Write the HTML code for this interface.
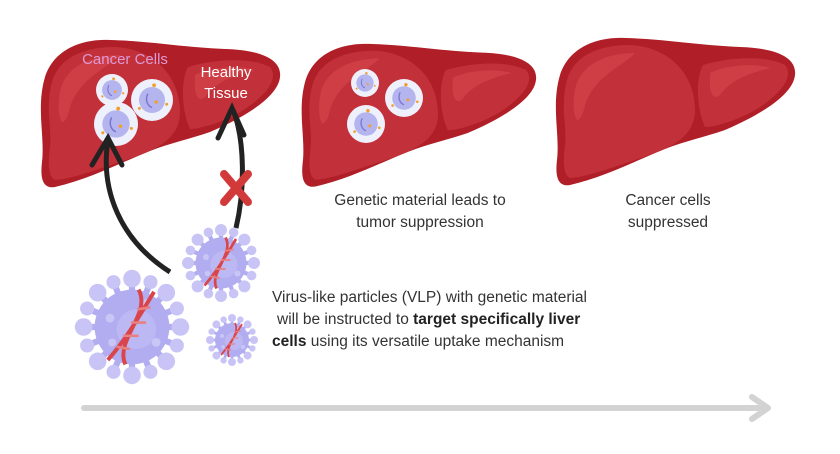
<!DOCTYPE html>
<html><head><meta charset="utf-8"><style>
body{margin:0;background:#fff;}
svg{display:block;font-family:"Liberation Sans",sans-serif;}
</style></head><body>
<svg width="840" height="454" viewBox="0 0 840 454">
<defs>
<g id="liver">
<path d="M15,40 C25,10 55,2 80,3 C120,4 150,10 195,12 C230,13 252,22 250,40 C248,60 215,80 180,95 C160,102 140,106 120,114 C90,126 60,142 25,150 C13,152 10,142 12,125 C15,100 6,70 15,40 Z" fill="#b01e27"/>
<path d="M22,45 C30,18 58,10 85,10 C125,12 150,40 150,75 C150,105 120,115 90,125 C60,135 40,142 25,143 C18,140 18,125 20,110 C22,90 15,70 22,45 Z" fill="#c2313a"/>
<path d="M158,30 C185,22 220,20 240,30 C248,40 240,55 215,72 C195,85 170,92 160,92 C152,75 150,45 158,30 Z" fill="#c2313a"/>
<path d="M30,55 C35,30 60,18 90,18 C80,30 50,40 40,70 C38,80 35,85 32,85 C28,80 28,65 30,55 Z" fill="#cf3d45"/>
<path d="M165,38 C180,30 210,28 225,33 C205,38 185,45 175,60 C170,65 165,60 165,50 Z" fill="#cf3d45"/>
</g>
<g id="virus">
<g stroke="#b2adf0" stroke-width="0.14">
<path d="M0,0 L0,-1.1 M0,0 L0.78,-0.78 M0,0 L1.1,0 M0,0 L0.78,0.78 M0,0 L0,1.1 M0,0 L-0.78,0.78 M0,0 L-1.1,0 M0,0 L-0.78,-0.78 M0,0 L0.42,-1.02 M0,0 L1.02,0.42 M0,0 L-0.42,1.02 M0,0 L-1.02,-0.42 M0,0 L-0.42,-1.02 M0,0 L1.02,-0.42 M0,0 L0.42,1.02 M0,0 L-1.02,0.42"/>
</g>
<g fill="#c8c5f6">
<circle cx="0" cy="-1.1" r="0.2"/><circle cx="0.78" cy="-0.78" r="0.2"/><circle cx="1.1" cy="0" r="0.2"/><circle cx="0.78" cy="0.78" r="0.2"/>
<circle cx="0" cy="1.1" r="0.2"/><circle cx="-0.78" cy="0.78" r="0.2"/><circle cx="-1.1" cy="0" r="0.2"/><circle cx="-0.78" cy="-0.78" r="0.2"/>
<circle cx="0.42" cy="-1.02" r="0.16"/><circle cx="1.02" cy="0.42" r="0.16"/><circle cx="-0.42" cy="1.02" r="0.16"/><circle cx="-1.02" cy="-0.42" r="0.16"/>
<circle cx="-0.42" cy="-1.02" r="0.16"/><circle cx="1.02" cy="-0.42" r="0.16"/><circle cx="0.42" cy="1.02" r="0.16"/><circle cx="-1.02" cy="0.42" r="0.16"/>
</g>
<circle r="0.85" fill="#b2adf0"/>
<circle cx="0.1" cy="0.05" r="0.45" fill="#bcb8f3"/>
<circle cx="-0.5" cy="-0.2" r="0.1" fill="#c9c6f6"/><circle cx="0.55" cy="0.35" r="0.1" fill="#c9c6f6"/><circle cx="-0.45" cy="0.35" r="0.09" fill="#c9c6f6"/><circle cx="0.3" cy="-0.55" r="0.08" fill="#c9c6f6"/>
<path d="M-0.55,0.75 C-0.15,0.3 0.2,-0.3 0.5,-0.8 M-0.15,0.85 C-0.4,0.3 0.45,-0.3 0.15,-0.85" stroke="#d9454a" stroke-width="0.09" fill="none"/>
<path d="M-0.35,0.45 L-0.05,0.5 M-0.2,0.2 L0.15,0.2 M-0.02,-0.1 L0.32,-0.1 M0.12,-0.4 L0.42,-0.45" stroke="#e88080" stroke-width="0.06"/>
</g>
<g id="cell">
<circle r="1" fill="#eef0fb"/><circle r="0.62" fill="#b4b4ee"/>
<path d="M-0.2,-0.3 C-0.35,0 -0.2,0.3 0,0.35" stroke="#7b77d0" stroke-width="0.07" fill="none"/>
<circle cx="0.1" cy="-0.7" r="0.09" fill="#f0a030"/><circle cx="0.7" cy="0.2" r="0.07" fill="#f0a030"/><circle cx="-0.6" cy="0.4" r="0.07" fill="#f0a030"/><circle cx="0.2" cy="0.1" r="0.08" fill="#f0a030"/>
</g>
</defs>
<use href="#liver" transform="translate(30 37)"/>
<use href="#liver" transform="translate(291 41) scale(0.98 0.97)"/>
<use href="#liver" transform="translate(545 35)"/>
<text x="125" y="64" text-anchor="middle" font-size="15" fill="#dc9ad6">Cancer Cells</text>
<text x="226" y="77" text-anchor="middle" font-size="15" fill="#fff">Healthy</text>
<text x="226" y="98" text-anchor="middle" font-size="15" fill="#fff">Tissue</text>
<use href="#cell" transform="translate(112 90) scale(16)"/>
<use href="#cell" transform="translate(152 100) scale(21)"/>
<use href="#cell" transform="translate(116 124) scale(22)"/>
<use href="#cell" transform="translate(365 83) scale(14)"/>
<use href="#cell" transform="translate(404 98) scale(19)"/>
<use href="#cell" transform="translate(366 124) scale(19)"/>
<path d="M170,272 C120,240 100,190 108,140" stroke="#222" stroke-width="5" fill="none"/>
<path d="M92,165 L108,138 L122,165" stroke="#222" stroke-width="5" fill="none" stroke-linecap="round"/>
<path d="M236,228 C245,190 245,140 233,110" stroke="#222" stroke-width="5" fill="none"/>
<path d="M218,138 L232,108 L244,135" stroke="#222" stroke-width="5" fill="none" stroke-linecap="round"/>
<path d="M224,174 L248,202 M248,174 L224,202" stroke="#d23a3a" stroke-width="8" stroke-linecap="round"/>
<use href="#virus" transform="translate(132 327) scale(44)"/>
<use href="#virus" transform="translate(221 263) scale(30)"/>
<use href="#virus" transform="translate(232 340) scale(20)"/>
<g font-size="15.5" fill="#333">
<text x="420" y="205" text-anchor="middle">Genetic material leads to</text>
<text x="420" y="227" text-anchor="middle">tumor suppression</text>
<text x="668" y="205" text-anchor="middle">Cancer cells</text>
<text x="668" y="227" text-anchor="middle">suppressed</text>
<text x="272" y="302">Virus-like particles (VLP) with genetic material</text>
<text x="277" y="324">will be instructed to <tspan font-weight="bold" fill="#222">target specifically liver</tspan></text>
<text x="272" y="346"><tspan font-weight="bold" fill="#222">cells</tspan> using its versatile uptake mechanism</text>
</g>
<path d="M84,408 L766,408" stroke="#d3d3d3" stroke-width="6" stroke-linecap="round"/>
<path d="M752,397 L768,408 L752,419" stroke="#d3d3d3" stroke-width="6" fill="none" stroke-linecap="round" stroke-linejoin="round"/>
</svg>
</body></html>
